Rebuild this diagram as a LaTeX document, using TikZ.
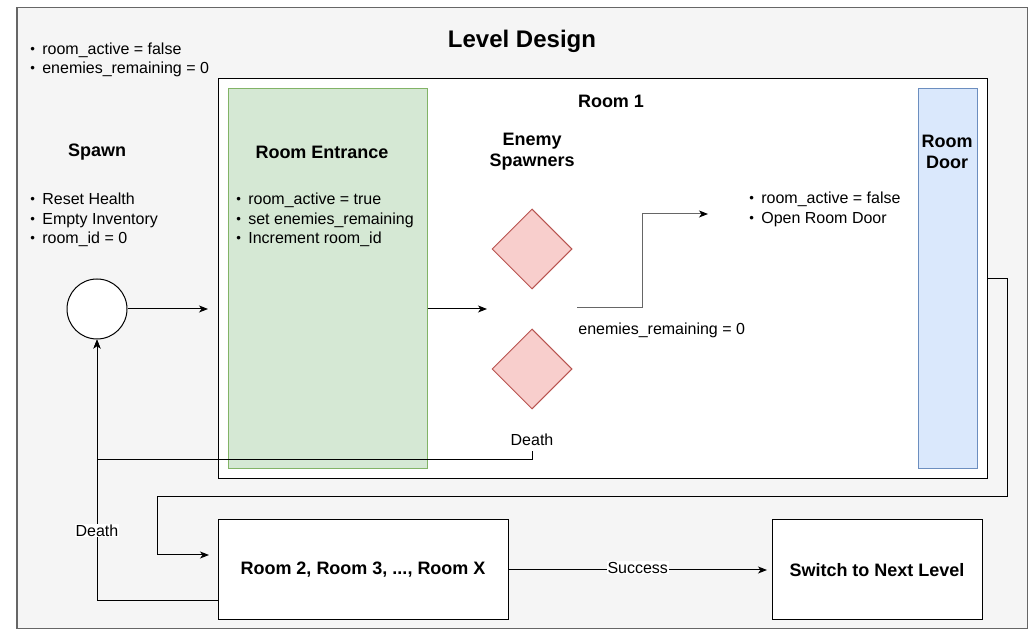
\documentclass[tikz,border=0pt]{standalone}
\usepackage{xcolor}
\usepackage{fontspec}
\setmainfont{Liberation Sans}
\usepackage{tikz}
\usetikzlibrary{calc}
\usetikzlibrary{shapes.geometric}
\usetikzlibrary{arrows.meta}

\newcommand{\dotitem}{\makebox[0.24cm][l]{\raisebox{0.02cm}{\fontsize{7.5}{7.5}\selectfont\textbullet}}}

\tikzset{
  box/.style={draw, line width=0.02cm, inner sep=0pt},
  heading/.style={font=\bfseries\fontsize{10.24}{12}\selectfont, align=center},
  bullets/.style={align=left, anchor=west, inner sep=0pt},
  link/.style={line width=0.02cm, -{Stealth[length=0.18cm, width=0.14cm, inset=0.05cm, color=black]}},
  tag/.style={fill=white, inner sep=0.02cm}
}

\begin{document}
\begin{tikzpicture}
                        \useasboundingbox (0,0) rectangle (20.56,12.62);
                        {\fontsize{9.1}{11.1}\selectfont

                        % Changing colors
                        \definecolor{r245g245b245}{rgb}{0.960784,0.960784,0.960784}%
                        \definecolor{r102g102b102}{rgb}{0.400000,0.400000,0.400000}%
                        \definecolor{r213g232b212}{rgb}{0.835294,0.909804,0.831373}%
                        \definecolor{r130g179b102}{rgb}{0.509804,0.701961,0.400000}%
                        \definecolor{r218g232b252}{rgb}{0.854902,0.909804,0.988235}%
                        \definecolor{r108g142b191}{rgb}{0.423529,0.556863,0.749020}%
                        \definecolor{r248g206b204}{rgb}{0.972549,0.807843,0.800000}%
                        \definecolor{r184g84b80}{rgb}{0.721569,0.329412,0.313725}%

                        % Filling frame Level Design
                        \draw [fill=r245g245b245, draw=r102g102b102, line width=0.02cm] (0.340000,0.040000) rectangle (20.540000,12.460000);%
                        \node [font=\bfseries\fontsize{13.66}{16}\selectfont] (title) at (10.440000,11.800000) {Level Design};%

                        % Level variables
                        \node [bullets] (levelvars) at (0.600000,11.420000) {\dotitem room\_active = false\\ \dotitem enemies\_remaining = 0};%

                        % Spawn
                        \node [heading] (spawnlabel) at (1.940000,9.580000) {Spawn};%
                        \node [bullets] (spawnvars) at (0.600000,8.220000) {\dotitem Reset Health\\ \dotitem Empty Inventory\\ \dotitem room\_id = 0};%
                        \node [box, circle, fill=white, minimum size=1.2cm] (spawn) at (1.940000,6.440000) {};%

                        % Drawing box Room 1
                        \node [box, fill=white, minimum width=15.38cm, minimum height=8cm] (room1) at (12.050000,7.040000) {};%
                        \node [heading] (room1label) at (12.220000,10.600000) {Room 1};%

                        % Drawing box Room Entrance
                        \node [box, fill=r213g232b212, draw=r130g179b102, minimum width=3.98cm, minimum height=7.6cm] (entrance) at (6.550000,7.040000) {};%
                        \node [heading] (entrancelabel) at (6.440000,9.580000) {Room Entrance};%
                        \node [bullets] (entrancevars) at (4.720000,8.220000) {\dotitem room\_active = true\\ \dotitem set enemies\_remaining\\ \dotitem Increment room\_id};%

                        % Drawing enemy spawners
                        \node [heading] (spawnerslabel) at (10.640000,9.580000) {Enemy\\Spawners};%
                        \node [box, diamond, fill=r248g206b204, draw=r184g84b80, minimum width=1.6cm, minimum height=1.6cm] (spawnerA) at (10.640000,7.640000) {};%
                        \node [box, diamond, fill=r248g206b204, draw=r184g84b80, minimum width=1.6cm, minimum height=1.6cm] (spawnerB) at (10.640000,5.240000) {};%

                        % Drawing box Room Door
                        \node [box, fill=r218g232b252, draw=r108g142b191, minimum width=1.18cm, minimum height=7.6cm] (door) at (18.950000,7.040000) {};%
                        \node [heading] (doorlabel) at (18.940000,9.580000) {Room\\Door};%
                        \node [bullets] (doorvars) at (14.980000,8.430000) {\dotitem room\_active = false\\ \dotitem Open Room Door};%

                        % Drawing boxes below Room 1
                        \node [box, fill=white, minimum width=5.8cm, minimum height=2cm, heading] (room2) at (7.260000,1.220000) {Room 2, Room 3, ..., Room X};%
                        \node [box, fill=white, minimum width=4.2cm, minimum height=2cm, heading] (nextlevel) at (17.540000,1.220000) {Switch to Next Level};%

                        % Free ends of connectors
                        \coordinate (roomin) at (4.160000,6.440000);%
                        \coordinate (spawnersin) at (9.740000,6.440000);%
                        \coordinate (clearfrom) at (11.540000,6.460000);%
                        \coordinate (clearto) at (14.160000,8.340000);%
                        \coordinate (nextin) at (4.180000,1.520000);%
                        \coordinate (nextlevelin) at (15.340000,1.220000);%

                        % Drawing connectors
                        \draw [link] (spawn.east) -- (roomin);%
                        \draw [link] (entrance.east |- roomin) -- (spawnersin);%
                        \draw [link, draw=r102g102b102] (clearfrom) -- (12.840000,6.460000) |- (clearto);%
                        \node [anchor=west, inner sep=0pt] (clearcond) at (11.560000,6.020000) {enemies\_remaining = 0};%

                        \node (deathone) at (10.640000,3.830000) {Death};%
                        \draw [link] (deathone.south) |- (1.940000,3.420000) -- (spawn.south);%
                        \draw [link] ($(room2.south west)+(0,0.4)$) -| (spawn.south) node [tag, pos=0.634] (deathtwo) {Death};%

                        \draw [link] (room1.east) -- (20.140000,7.040000) -- (20.140000,2.680000) -- (3.140000,2.680000) |- (nextin);%
                        \draw [link] (room2.east) -- (nextlevelin) node [tag, midway, yshift=0.05cm] (success) {Success};%
                        }
                    \end{tikzpicture}
\end{document}
